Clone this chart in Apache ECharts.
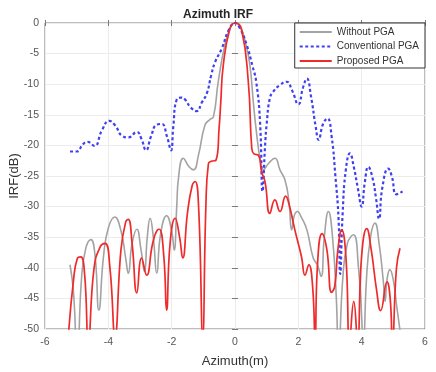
<!DOCTYPE html>
<html><head><meta charset="utf-8">
<script src="https://cdn.jsdelivr.net/npm/echarts@6/dist/echarts.min.js"></script>
<style>html,body{margin:0;padding:0;background:#fff}#c{width:436px;height:372px}</style>
</head><body><div id="c"></div>
<script>
const title = 'Azimuth IRF';
const xName = 'Azimuth(m)';
const yName = 'IRF(dB)';
const seriesNames = ['Without PGA', 'Conventional PGA', 'Proposed PGA'];
const xTicks = [-6, -4, -2, 0, 2, 4, 6];
const yTicks = [-50, -45, -40, -35, -30, -25, -20, -15, -10, -5, 0];

const withoutX = [-5.21,-5.1,-4.98,-4.85,-4.72,-4.55,-4.42,-4.3,-4.15,-4.0,-3.8,-3.6,-3.45,-3.37,-3.25,-3.1,-2.97,-2.86,-2.77,-2.68,-2.58,-2.47,-2.35,-2.16,-2.0,-1.92,-1.84,-1.78,-1.63,-1.45,-1.31,-1.15,-0.95,-0.8,-0.68,-0.53,-0.32,-0.15,0,0.18,0.32,0.47,0.58,0.67,0.8,0.89,1.05,1.26,1.42,1.58,1.7,1.79,1.87,1.97,2.1,2.27,2.47,2.6,2.72,2.82,2.95,3.08,3.2,3.27,3.4,3.55,3.74,3.9,4.0,4.05,4.15,4.28,4.42,4.55,4.68,4.74,4.8,4.89,5.0,5.1,5.23];
const withoutY = [-39.5,-44,-55,-42,-37,-35.4,-38,-46.9,-38,-33.5,-31.7,-34,-38.5,-40.9,-36,-33.7,-37,-40.6,-35,-31.9,-35,-40.9,-34.5,-31.5,-34,-37.1,-30,-25.1,-22.1,-23.5,-24.0,-21.5,-16.7,-15.8,-15.3,-9.6,-3.6,-0.8,0,-0.8,-3,-6.9,-13,-17.5,-22.5,-24.0,-23,-22.1,-24,-25.7,-29,-33.8,-31.5,-30.8,-31.8,-33.8,-38.4,-39.5,-41.4,-35,-30.8,-35,-45,-55,-42,-36,-34.6,-40,-48,-55,-42,-35,-32.7,-36,-42,-45.5,-42,-40.3,-42,-46,-51];

const convX = [-5.21,-5.0,-4.8,-4.66,-4.44,-4.2,-3.97,-3.79,-3.55,-3.37,-3.1,-2.95,-2.81,-2.65,-2.47,-2.31,-2.15,-2.02,-1.95,-1.84,-1.7,-1.58,-1.4,-1.21,-1.05,-0.89,-0.75,-0.63,-0.42,-0.2,0,0.15,0.37,0.55,0.67,0.79,0.87,0.95,1.0,1.1,1.21,1.4,1.63,1.8,2.0,2.15,2.27,2.4,2.55,2.64,2.78,2.92,3.05,3.17,3.27,3.32,3.4,3.5,3.63,3.75,3.88,4.0,4.1,4.21,4.35,4.45,4.55,4.65,4.84,4.95,5.1,5.29];
const convY = [-21.0,-21.0,-19.8,-19.4,-20.1,-17.5,-16.0,-16.7,-18.5,-18.7,-17.8,-19,-20.8,-18.5,-16.6,-16.5,-18.5,-20.8,-17,-12.5,-12.2,-12.5,-13.8,-14.4,-13,-11.5,-8.5,-6.4,-4.2,-1.2,0,-0.8,-3.6,-7,-9.6,-16.1,-27.5,-20,-16.5,-12.3,-11.2,-10.2,-9.6,-11,-13.3,-10.5,-9.1,-12,-17,-19.1,-16.5,-15.6,-18.5,-25,-32,-41,-31,-24,-21.3,-23.5,-27,-30,-26,-23.5,-25.5,-28.5,-32,-27,-23.8,-25,-28,-27.5];

const propX = [-5.26,-5.1,-4.98,-4.87,-4.75,-4.63,-4.45,-4.25,-4.1,-3.95,-3.79,-3.6,-3.45,-3.37,-3.25,-3.1,-2.95,-2.79,-2.6,-2.45,-2.39,-2.25,-2.16,-2.05,-1.89,-1.75,-1.65,-1.5,-1.35,-1.26,-1.15,-1.02,-0.92,-0.84,-0.75,-0.6,-0.5,-0.45,-0.37,-0.16,0,0.2,0.42,0.53,0.6,0.74,0.84,0.95,1.1,1.26,1.42,1.6,1.7,1.89,2.1,2.21,2.33,2.45,2.53,2.6,2.75,2.9,3.05,3.15,3.25,3.37,3.5,3.62,3.75,3.87,4.0,4.16,4.3,4.47,4.6,4.8,4.9,4.97,5.1,5.21];
const propY = [-51,-42,-38.5,-38.2,-41,-52,-40,-36.5,-36.0,-40,-51,-37,-32.5,-32.1,-36,-44.1,-38.4,-41.2,-36,-33.8,-33.7,-38,-46.9,-36,-31.9,-35,-38.4,-31,-26.5,-25.9,-30,-51,-30,-23,-22.6,-22.4,-17,-13,-6.9,-0.9,0,-0.9,-9.6,-20.5,-21.4,-21.6,-24.3,-26,-31.1,-28.9,-30.8,-28.3,-29.5,-33.8,-38.2,-41.2,-39.5,-43,-52,-40,-34.4,-37,-44,-43,-37,-33.8,-38,-52,-45.5,-52,-38,-33.6,-37,-43.6,-47,-42.3,-45,-52,-40,-36.8];

function zip(xs, ys) { return xs.map((x, i) => [x, ys[i]]); }

const chart = echarts.init(document.getElementById('c'), null, {renderer: 'canvas'});
const axisCol = '#7a7a7a';
const labCol = '#555';
const fontFam = '"Liberation Sans", Arial, sans-serif';
const gridL = 45, gridR = 11, gridT = 23, gridB = 43;

chart.setOption({
  backgroundColor: '#fff',
  animation: false,
  title: {
    text: title, left: 'center', top: 4,
    textStyle: {fontSize: 12, fontWeight: 'bold', color: '#262626', fontFamily: fontFam}
  },
  legend: {
    show: true,
    data: seriesNames,
    orient: 'vertical',
    right: gridR, top: gridT,
    itemWidth: 32, itemHeight: 10, itemGap: 4.5,
    padding: [4, 6, 2, 4],
    backgroundColor: '#fff',
    borderColor: '#333', borderWidth: 1,
    itemStyle: {opacity: 0},
    textStyle: {fontSize: 10, color: '#333', fontFamily: fontFam}
  },
  grid: {
    left: gridL, right: gridR, top: gridT, bottom: gridB,
    outerBoundsMode: 'none', containLabel: false,
    show: true, borderColor: axisCol, borderWidth: 1, backgroundColor: 'transparent'
  },
  xAxis: [{
    type: 'value', min: -6, max: 6, interval: 2,
    name: xName, nameLocation: 'middle', nameGap: 26, nameMoveOverlap: false,
    nameTextStyle: {fontSize: 13, color: '#333', fontFamily: fontFam},
    axisLine: {show: false},
    axisTick: {show: true, inside: true, length: 3, lineStyle: {color: axisCol}},
    axisLabel: {fontSize: 10.5, color: labCol, margin: 8, fontFamily: fontFam},
    splitLine: {show: true, lineStyle: {color: '#ececec', width: 1}}
  }, {
    type: 'value', min: -6, max: 6, interval: 2, position: 'top',
    axisLine: {show: false},
    axisTick: {show: true, inside: true, length: 3, lineStyle: {color: axisCol}},
    axisLabel: {show: false}, splitLine: {show: false}
  }],
  yAxis: [{
    type: 'value', min: -50, max: 0, interval: 5,
    name: yName, nameLocation: 'middle', nameGap: 24, nameRotate: 90, nameMoveOverlap: false,
    nameTextStyle: {fontSize: 13, color: '#333', fontFamily: fontFam},
    axisLine: {show: false},
    axisTick: {show: true, inside: true, length: 3, lineStyle: {color: axisCol}},
    axisLabel: {fontSize: 10.5, color: labCol, margin: 6, fontFamily: fontFam},
    splitLine: {show: true, lineStyle: {color: '#ececec', width: 1}}
  }, {
    type: 'value', min: -50, max: 0, interval: 5, position: 'right',
    axisLine: {show: false},
    axisTick: {show: true, inside: true, length: 3, lineStyle: {color: axisCol}},
    axisLabel: {show: false}, splitLine: {show: false}
  }],
  series: [{
    name: seriesNames[0], type: 'line', data: zip(withoutX, withoutY),
    showSymbol: false, symbol: 'none', smooth: 0.5, clip: true,
    lineStyle: {color: '#a3a3a3', width: 1.6}, itemStyle: {color: '#a3a3a3'}, z: 2
  }, {
    name: seriesNames[1], type: 'line', data: zip(convX, convY),
    showSymbol: false, symbol: 'none', smooth: 0.5, clip: true,
    lineStyle: {color: '#4040f0', width: 2.2, type: [3, 2.5]}, itemStyle: {color: '#4040f0'}, z: 3
  }, {
    name: seriesNames[2], type: 'line', data: zip(propX, propY),
    showSymbol: false, symbol: 'none', smooth: 0.5, clip: true,
    lineStyle: {color: '#ee2a2a', width: 1.7}, itemStyle: {color: '#ee2a2a'}, z: 4
  }]
});
</script></body></html>
